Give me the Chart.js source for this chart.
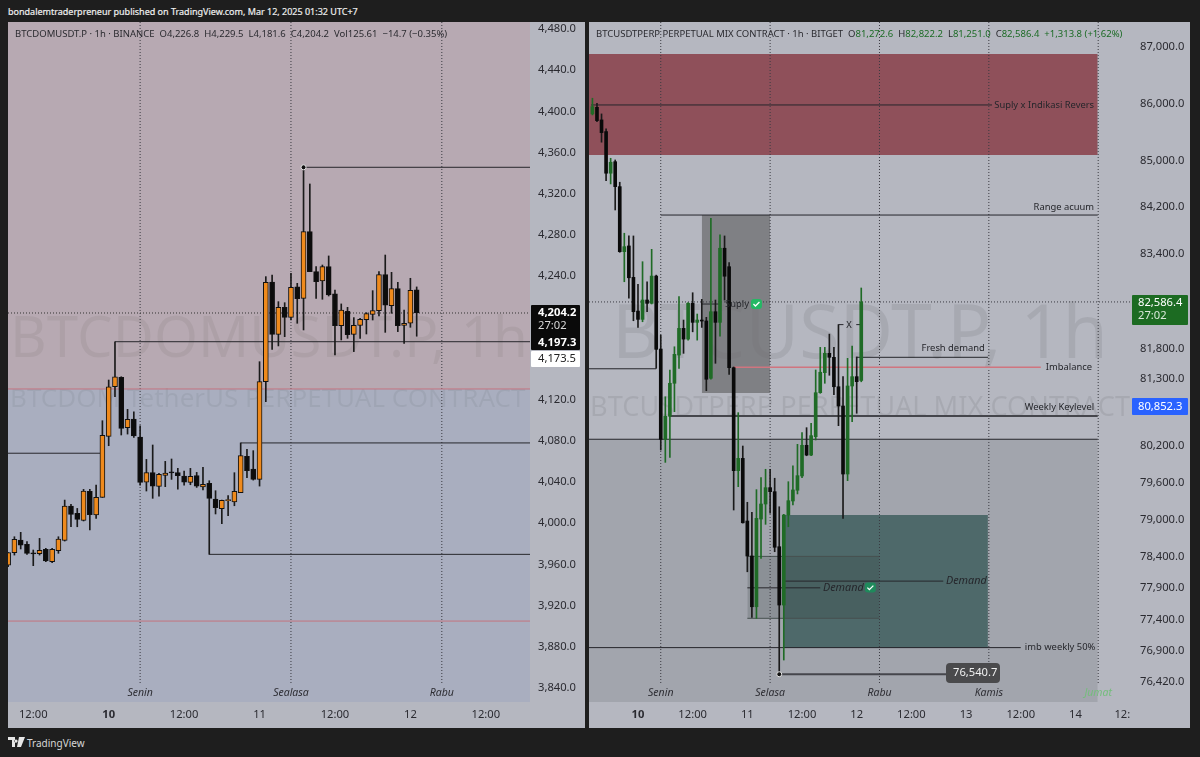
<!DOCTYPE html>
<html>
<head>
<meta charset="utf-8">
<title>BTCDOMUSDT.P / BTCUSDTPERP</title>
<script src="https://cdn.jsdelivr.net/npm/chart.js@4/dist/chart.umd.min.js"></script>
<style>
html, body { margin: 0; padding: 0; background: #1e1e1e; }
body { width: 1200px; height: 757px; position: relative; overflow: hidden; font-family: "Noto Sans", sans-serif; }
canvas { position: absolute; top: 22px; }
#leftChart { left: 8px; }
#rightChart { left: 589px; }
.txt { position: absolute; white-space: pre; }
#published { left: 8px; top: 4px; color: #eeeeee; font-size: 9px; line-height: 15px; -webkit-text-stroke: 0.2px #eeeeee; }
.legend { top: 27px; font-size: 9.5px; line-height: 14px; color: #2b2b30; }
.legend span { margin-left: 5px; }
#rightLegend b { font-weight: normal; color: #1c6b25; }
#logo { left: 8px; top: 736px; }
#logoText { left: 27px; top: 735px; color: #d6d6d6; font-size: 10px; line-height: 16px; }
</style>
</head>
<body>
<canvas id="leftChart" width="577" height="706"></canvas>
<canvas id="rightChart" width="601" height="706"></canvas>
<div class="txt" id="published">bondalemtraderpreneur published on TradingView.com, Mar 12, 2025 01:32 UTC+7</div>
<div class="txt legend" style="left:15px">BTCDOMUSDT.P · 1h · BINANCE<span>O4,226.8</span><span>H4,229.5</span><span>L4,181.6</span><span>C4,204.2</span><span>Vol125.61</span><span>−14.7 (−0.35%)</span></div>
<div class="txt legend" id="rightLegend" style="left:596px">BTCUSDTPERP PERPETUAL MIX CONTRACT · 1h · BITGET<span>O<b>81,272.6</b></span><span>H<b>82,822.2</b></span><span>L<b>81,251.0</b></span><span>C<b>82,586.4</b></span><span><b>+1,313.8 (+1.62%)</b></span></div>
<svg class="txt" id="logo" width="17" height="12" viewBox="0 0 17 12"><path fill="#e6e6e6" d="M0 1h7v10H4V4H0zM8 3.5a1.6 1.6 0 1 0 .01 0zM11 1h6l-4 10H9z"/></svg>
<div class="txt" id="logoText">TradingView</div>

<script>
// left panel, BTCDOMUSDT.P 1h candles, hours counted from 10 March 00:00
const leftFirstHour = -16
const leftOpen = [3959.4,3971.4,3983.7,3979.5,3970.8,3970.4,3974.6,3962.7,3973.3,3983.4,4016.7,4009.6,4002.8,4031.0,4008.0,4025.1,
  4084.4,4132.6,4141.7,4092.8,4101.2,4083.7,4040.0,4049.1,4035.8,4046.5,4049.1,4049.1,4045.9,4039.7,4046.2,4035.2,4038.7,4023.5,4014.1,4021.9,4020.6,4029.7,4065.0,4052.6,
  4042.6,4137.5,4234.3,4183.5,4209.7,4200.0,4229.5,4218.4,4283.2,4244.3,4235.3,4249.2,4222.7,4191.9,4205.8,4183.5,4192.2,4197.7,4202.9,4206.5,4241.4,4211.3,4227.8,4192.2,4194.2,4226.8]
const leftHigh = [3971.4,3986.9,3991.2,3982.1,3974.0,3985.3,3975.6,3975.6,3986.9,4022.5,4018.3,4014.4,4032.9,4032.9,4037.1,4099.6,
  4139.1,4176.3,4142.3,4110.6,4108.3,4094.7,4062.0,4076.0,4048.4,4060.1,4062.4,4053.3,4050.7,4053.3,4049.4,4054.3,4041.3,4031.6,4022.5,4026.8,4049.1,4078.0,4071.7,4070.5,
  4156.9,4239.5,4241.1,4215.2,4214.2,4242.7,4233.0,4345.7,4329.5,4249.2,4250.8,4259.6,4226.5,4213.0,4209.7,4199.7,4199.0,4204.5,4225.9,4244.3,4260.5,4243.7,4234.0,4207.1,4237.9,4229.5]
const leftLow = [3957.8,3969.1,3975.0,3969.8,3958.8,3969.1,3962.7,3961.7,3970.8,3982.7,3996.6,3996.6,4002.2,3993.4,4004.7,4025.1,
  4075.3,4122.9,4085.7,4086.6,4083.4,4037.1,4031.3,4024.2,4026.4,4035.5,4042.6,4033.2,4037.1,4037.4,4034.8,4032.3,3969.8,4009.0,3999.6,4007.3,4017.0,4029.7,4044.2,4041.9,
  4036.1,4118.1,4168.9,4172.2,4181.2,4197.4,4194.2,4187.7,4244.3,4218.4,4217.5,4220.7,4163.4,4178.0,4179.6,4166.7,4179.6,4183.8,4197.4,4201.3,4185.4,4203.9,4186.1,4174.7,4190.3,4181.6]
const leftClose = [3971.4,3984.3,3978.8,3970.8,3970.3,3973.7,3963.3,3974.6,3984.7,4016.7,4008.6,4003.8,4031.3,4008.3,4025.1,4085.3,
  4132.6,4142.3,4092.1,4100.9,4084.7,4039.7,4049.1,4036.1,4047.5,4048.8,4048.9,4046.2,4040.0,4045.5,4036.1,4037.8,4024.2,4015.1,4022.2,4022.0,4031.0,4065.6,4051.0,4042.6,
  4137.5,4234.0,4183.5,4209.7,4200.0,4229.1,4218.1,4283.2,4244.3,4234.6,4249.2,4221.7,4191.9,4207.1,4183.2,4192.2,4198.1,4203.6,4206.5,4241.4,4211.7,4227.8,4191.9,4194.2,4226.2,4204.2]
const leftTicks = [4480,4440,4400,4360,4320,4280,4240,4120,4080,4040,4000,3960,3920,3880,3840]
const leftTimeHours = [-12,0,12,24,36,48,60]
const leftTimeLabels = ['12:00','10','12:00','11','12:00','12','12:00']
const leftDayHours = [5,29,53]
const leftDayNames = ['Senin','Sealasa','Rabu']
// from hour, to hour, price
const leftLevels = [[31,67.1,4345.7],[1,67.1,4176.3],[21,67.1,4078],[-16.1,-1.3,4068],[16,67.1,3969.8]]
const leftRedLevels = [[-16.1,67.1,4130.4],[-16.1,67.1,3905]]
const leftZoneSplit = 4130.4

// right panel, BTCUSDTPERP 1h candles
const rightFirstHour = -10
const rightOpen = [85819,85935,85714,85510,84786,84986,84554,83439,83536,83002,82433,82293,82619,82563,83024,81796,80303,80681,81226,81696,82142,81962,82563,82243,82282,82266,81309,82422,82243,83497,83183,81485,79789,79990,
  78973,78411,77603,79005,79248,79513,79448,78560,77630,79070,79297,79471,79703,80204,80044,80345,81070,81402,81724,81658,81169,80850,79735,81181,81336,81272.6]
const rightHigh = [86094,86005,85819,85557,85045,85016,84630,83753,83707,83707,82884,83268,82928,83479,83040,82029,81003,81447,81834,82675,82282,82575,82742,82383,82631,82327,84009,82619,83724,83707,83251,81497,80740,80192,
  79276,79114,79481,79675,79812,79812,79666,79204,79081,79610,79870,80220,80411,80493,80566,81447,81824,81824,82046,81824,82205,81336,81641,81846,81664,82822.2]
const rightLow = [85801,85684,85325,84658,84601,84152,83428,82928,82648,82270,82158,82253,82422,82552,81475,80127,79925,80006,80757,81475,81724,81945,82084,81945,82158,81103,81293,81558,82012,82619,81375,79151,79529,78940,
  78159,77435,77419,78374,78920,79102,78480,76540.7,76763,78881,79232,79411,79675,80033,80033,80291,81060,81226,81359,81036,80526,79016,79627,80592,80730,81251.0]
const rightClose = [85946,85702,85492,84786,84976,84554,83439,83524,82995,82422,82293,82619,82563,83024,81791,80303,80681,81226,81708,82142,81962,82563,82243,82282,82265,81293,82422,82243,83497,83021,81485,79789,79990,78945,
  78411,77603,79016,79248,79513,79448,78551,77630,79070,79302,79476,79708,80204,80044,80362,81070,81409,81724,81658,81169,80850,79735,81181,81336,81253,82586.4]
const rightTicks = [87000,86000,85000,84200,83400,81800,81300,80200,79600,79000,78400,77900,77400,76900,76420]
const rightTimeHours = [0,12,24,36,48,60,72,84,96,106.3]
const rightTimeLabels = ['10','12:00','11','12:00','12','12:00','13','12:00','14','12:']
const rightDayHours = [5,29,53,77,101]
const rightDayNames = ['Senin','Selasa','Rabu','Kamis','Jumat']
const rightThinLevels = [[-10.3,77.7,85976],[5,100.9,84065],[14,18.3,82551],[-11,4,81467],[48,76.8,81658],[-11,100.9,80303],[-11,84,76958],[24,40,77903],[32,67,78010],[44,45.1,82205],[47.9,49,82205]]
const rightThickLevels = [[7,100.9,80686],[31,68,76540.7]]
const rightRedLevels = [[21,88.4,81492]]
// from hour, to hour, top price, bottom price
const redZone = [-11,100.9,86876,85103]
const lowerZone = [-11,100.9,80303,76108]
const supplyZone = [14,29,84065,81065]
const demandZone = [32,76.8,79070,76950]
const innerZone = [24,53,78405,77420]

const leftNotes = []
const rightNotes = [
  {h:100.1, p:85976, text:'Suply x Indikasi Revers', align:'right'},
  {h:100.1, p:84204, text:'Range acuum', align:'right'},
  {h:76.1, p:81812, text:'Fresh demand', align:'right'},
  {h:89.5, p:81497, text:'Imbalance', align:'left'},
  {h:100.1, p:80835, text:'Weekly Keylevel', align:'right'},
  {h:84.9, p:76966, text:'imb weekly 50%', align:'left'},
  {h:19.1, p:82551, text:'Suply', align:'left'},
  {h:46.3, p:82196, text:'X', align:'center'},
  {h:40.6, p:77907, text:'Demand', align:'left', italic:true},
  {h:67.6, p:78010, text:'Demand', align:'left', italic:true}
]
const rightBadges = [{h:26, p:82551, color:'#25b864'},{h:51, p:77907, color:'#1f8a5c'}]

const FONT = '"Noto Sans", sans-serif'
const AXIS_SIZE = 11.2
const priceText = v => v.toLocaleString('en-US', {minimumFractionDigits:1, maximumFractionDigits:1})

// wicks and bodies as floating bars
function candleSets(first, o, h, l, c, upColor, downColor, border, bodyWidth) {
  const wick = o.map((v, i) => ({x:first+i, y:[l[i], h[i]]}))
  const body = o.map((v, i) => ({x:first+i, y:[Math.min(v, c[i]), Math.max(v, c[i])]}))
  const colors = o.map((v, i) => c[i] >= v ? upColor : downColor)
  return [
    {type:'bar', data:body, backgroundColor:colors, borderColor:border || colors, borderWidth:border ? 1 : 0, borderSkipped:false,
      barThickness:bodyWidth, minBarLength:1, grouped:false, order:1},
    {type:'bar', data:wick, backgroundColor:colors.map(k => k === upColor && !border ? upColor : '#1a1a1a'), barThickness:1, grouped:false, order:2}
  ]
}

function levelSet(level, color, width, order, dash) {
  return {type:'line', data:[{x:level[0], y:level[2]},{x:level[1], y:level[2]}], borderColor:color, borderWidth:width,
    borderDash:dash || [], pointRadius:0, fill:false, order:order || 3}
}

function zoneSet(zone, color, order, edge) {
  return {type:'line', data:[{x:zone[0], y:zone[2]},{x:zone[1], y:zone[2]}], backgroundColor:color, borderColor:edge || 'transparent',
    borderWidth:edge ? 1 : 0, pointRadius:0, fill:{value:zone[3]}, order:order}
}

function dayLineSet(h, top, bottom) {
  return {type:'line', data:[{x:h, y:top},{x:h, y:bottom}], borderColor:'#3a3a40', borderWidth:1, borderDash:[1,2], pointRadius:0, fill:false, order:3}
}

function dotSet(h, p) {
  return {type:'line', data:[{x:h, y:p}], pointRadius:2.5, pointBackgroundColor:'#111', pointBorderColor:'#e8e8e8', pointBorderWidth:1, showLine:false, order:0}
}

function tagBox(ctx, x, y, w, h, color, r) {
  ctx.fillStyle = color
  ctx.beginPath()
  ctx.roundRect(x, y, w, h, r || 1)
  ctx.fill()
}

function tagText(ctx, text, x, y, color, bold) {
  ctx.fillStyle = color
  ctx.font = (bold ? 'bold ' : '') + AXIS_SIZE + 'px ' + FONT
  ctx.textAlign = 'left'
  ctx.textBaseline = 'middle'
  ctx.fillText(text, x, y)
}

function noPadding(s) {
  s.paddingTop = 0
  s.paddingBottom = 0
  s.paddingLeft = 0
  s.paddingRight = 0
}

function panelPlugin(cfg) {
  return {
    id: cfg.id,
    beforeDraw(chart) {
      const ctx = chart.ctx
      ctx.save()
      ctx.fillStyle = '#b5b7c0'
      ctx.fillRect(0, 0, chart.width, chart.height)
      ctx.restore()
    },
    beforeDatasetsDraw(chart) {
      const ctx = chart.ctx
      ctx.save()
      ctx.fillStyle = 'rgba(0,0,0,0.075)'
      ctx.textAlign = 'left'
      ctx.textBaseline = 'alphabetic'
      ctx.font = cfg.mark.size + 'px ' + FONT
      ctx.fillText(cfg.mark.text, cfg.mark.x, cfg.mark.base, cfg.mark.width)
      ctx.font = cfg.sub.size + 'px ' + FONT
      ctx.fillText(cfg.sub.text, cfg.sub.x, cfg.sub.base, cfg.sub.width)
      ctx.restore()
    },
    afterDatasetsDraw(chart) {
      const ctx = chart.ctx, xs = chart.scales.x, ys = chart.scales.y
      ctx.save()
      // day names under the session lines
      ctx.font = 'italic 10.5px ' + FONT
      ctx.textAlign = 'center'
      ctx.textBaseline = 'middle'
      cfg.dayHours.forEach((h, i) => {
        ctx.fillStyle = cfg.dayNames[i] === 'Jumat' ? '#74bd7c' : '#2e2e34'
        ctx.fillText(cfg.dayNames[i], xs.getPixelForValue(h), ys.getPixelForValue(cfg.dayPrice))
      })
      cfg.notes.forEach(n => {
        ctx.font = n.italic ? 'italic 10.8px ' + FONT : '9.4px ' + FONT
        ctx.fillStyle = '#25262b'
        ctx.textAlign = n.align
        ctx.fillText(n.text, xs.getPixelForValue(n.h), ys.getPixelForValue(n.p))
      })
      cfg.badges.forEach(b => {
        const x = xs.getPixelForValue(b.h), y = ys.getPixelForValue(b.p)
        tagBox(ctx, x-5.5, y-5, 11, 10, b.color, 3)
        ctx.strokeStyle = '#fff'
        ctx.lineWidth = 1.3
        ctx.beginPath()
        ctx.moveTo(x-3, y)
        ctx.lineTo(x-1, y+2)
        ctx.lineTo(x+3, y-2)
        ctx.stroke()
      })
      cfg.tags(ctx, xs, ys)
      ctx.restore()
    }
  }
}

function makePanel(canvasId, cfg) {
  return new Chart(document.getElementById(canvasId), {
    type: 'bar',
    data: {datasets: cfg.datasets},
    plugins: [panelPlugin(cfg)],
    options: {
      responsive: false,
      animation: false,
      events: [],
      layout: {padding: 0, autoPadding: false},
      plugins: {legend: {display:false}, tooltip: {enabled:false}, title: {display:false}},
      scales: {
        x: {
          type: 'linear', offset: false, min: cfg.xMin, max: cfg.xMax,
          grid: {display:false, drawTicks:false}, border: {display:false},
          afterBuildTicks: s => { s.ticks = cfg.timeHours.map(v => ({value:v})) },
          afterFit: s => { s.height = 26; noPadding(s) },
          ticks: {
            autoSkip: false, maxRotation: 0, padding: 6, color: '#2a2a30',
            font: c => ({family:FONT, size:AXIS_SIZE, weight: c.tick && c.tick.value === 0 ? 'bold' : 'normal'}),
            callback: v => cfg.timeLabels[cfg.timeHours.indexOf(v)]
          }
        },
        y: {
          type: cfg.yType, position: 'right', beginAtZero: false, min: cfg.yMin, max: cfg.yMax,
          grid: {display:false, drawTicks:false}, border: {display:false},
          afterBuildTicks: s => { s.ticks = cfg.priceTicks.map(v => ({value:v})) },
          afterFit: s => { s.width = cfg.axisWidth; noPadding(s) },
          ticks: {
            autoSkip: false, padding: cfg.tickPad, color: '#2a2a30',
            font: {family:FONT, size:AXIS_SIZE}, major: {enabled:false},
            callback: v => priceText(v)
          }
        }
      }
    }
  })
}

const leftCurrent = leftClose[leftClose.length-1]
const leftXMin = -16.02, leftXMax = 67.03, leftYMin = 3826.4, leftYMax = 4486.8
makePanel('leftChart', {
  id: 'leftPanel', yType: 'linear', xMin: leftXMin, xMax: leftXMax, yMin: leftYMin, yMax: leftYMax,
  axisWidth: 55, tickPad: 8, priceTicks: leftTicks, timeHours: leftTimeHours, timeLabels: leftTimeLabels,
  dayHours: leftDayHours, dayNames: leftDayNames, dayPrice: 3835.1, notes: leftNotes, badges: [],
  mark: {text:'BTCDOMUSDT.P, 1h', size:57, x:2, base:335, width:518},
  sub: {text:'BTCDOM TetherUS PERPETUAL CONTRACT', size:26, x:2, base:385, width:518},
  datasets: [
    ...candleSets(leftFirstHour, leftOpen, leftHigh, leftLow, leftClose, '#ef8a1c', '#0c0c0c', '#111', 5),
    dotSet(31, 4345.7),
    ...leftLevels.map(l => levelSet(l, '#27272c', 1)),
    ...leftRedLevels.map(l => levelSet(l, '#c4747f', 1)),
    levelSet([leftXMin, leftXMax, leftCurrent], '#333', 1, 3, [1,2]),
    ...leftDayHours.map(h => dayLineSet(h, leftYMax, 3843)),
    zoneSet([leftXMin, leftXMax, leftYMax, leftZoneSplit], 'rgba(188,140,145,0.3)', 6),
    zoneSet([leftXMin, leftXMax, leftZoneSplit, leftYMin], 'rgba(141,156,189,0.3)', 6)
  ],
  tags(ctx) {
    tagBox(ctx, 523, 283, 49, 45, '#0a0a0a')
    tagText(ctx, priceText(leftCurrent), 530, 291, '#fff', true)
    tagText(ctx, '27:02', 530, 304, '#d8d8d8')
    tagText(ctx, priceText(4197.3), 530, 321, '#fff', true)
    tagBox(ctx, 523, 329, 49, 16, '#fff')
    tagText(ctx, priceText(4173.5), 530, 337, '#222')
  }
})

const rightCurrent = rightClose[rightClose.length-1]
const rightXMin = -10.75, rightXMax = 108.2, rightYMin = 76108, rightYMax = 87445
makePanel('rightChart', {
  id: 'rightPanel', yType: 'logarithmic', xMin: rightXMin, xMax: rightXMax, yMin: rightYMin, yMax: rightYMax,
  axisWidth: 59, tickPad: 9, priceTicks: rightTicks, timeHours: rightTimeHours, timeLabels: rightTimeLabels,
  dayHours: rightDayHours, dayNames: rightDayNames, dayPrice: 76248, notes: rightNotes, badges: rightBadges,
  mark: {text:'BTCUSDT.P, 1h', size:74, x:23, base:336, width:496},
  sub: {text:'BTCUSDTPERP PERPETUAL MIX CONTRACT', size:28, x:1, base:394, width:540},
  datasets: [
    ...candleSets(rightFirstHour, rightOpen, rightHigh, rightLow, rightClose, '#1f6b26', '#0a0a0a', null, 3),
    dotSet(31, 76540.7),
    ...rightThinLevels.map(l => levelSet(l, '#26262b', 1)),
    ...rightThickLevels.map(l => levelSet(l, '#45464c', 2)),
    ...rightRedLevels.map(l => levelSet(l, '#d0757f', 1.5)),
    levelSet([rightXMin, rightXMax, rightCurrent], '#3a3a40', 1, 3, [1,2]),
    ...rightDayHours.map(h => dayLineSet(h, rightYMax, 76373)),
    zoneSet(innerZone, 'rgba(50,60,60,0.2)', 4, '#47504f'),
    levelSet([innerZone[0], innerZone[1], innerZone[3]], '#47504f', 1),
    zoneSet(demandZone, 'rgba(69,99,99,0.9)', 5),
    zoneSet(supplyZone, 'rgba(109,110,112,0.75)', 5),
    zoneSet(redZone, 'rgba(134,54,64,0.8)', 6),
    zoneSet(lowerZone, 'rgba(125,130,135,0.33)', 6)
  ],
  tags(ctx) {
    tagBox(ctx, 543, 273, 56, 30, '#1c6b22')
    tagText(ctx, priceText(rightCurrent), 549, 281, '#fff')
    tagText(ctx, '27:02', 549, 294, '#d9e8d9')
    tagBox(ctx, 543, 376, 56, 17, '#2962ff')
    tagText(ctx, priceText(80852.3), 549, 385, '#fff')
    tagBox(ctx, 357, 641, 54, 20, '#4a4a4c', 4)
    tagText(ctx, priceText(76540.7), 364, 651, '#f0f0f0')
  }
})
</script>
</body>
</html>
